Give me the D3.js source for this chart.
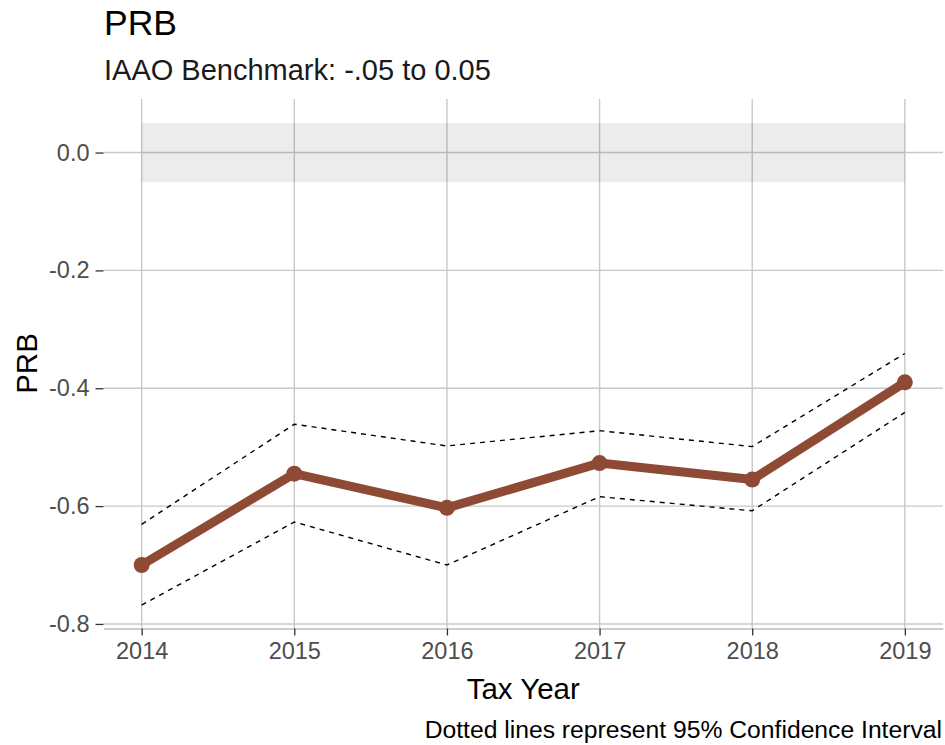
<!DOCTYPE html>
<html>
<head>
<meta charset="utf-8">
<script src="https://cdn.jsdelivr.net/npm/d3@7"></script>
<style>
  html, body { margin: 0; padding: 0; background: #fff; }
  svg { display: block; font-family: "Liberation Sans", Arial, sans-serif; }
</style>
</head>
<body>
<svg id="chart" width="945" height="745"></svg>
<script>
// ---- Data ----
const years = [2014, 2015, 2016, 2017, 2018, 2019];
const prb   = [-0.700, -0.545, -0.603, -0.527, -0.555, -0.390];
const upper = [-0.631, -0.461, -0.498, -0.472, -0.499, -0.341];
const lower = [-0.768, -0.627, -0.700, -0.584, -0.608, -0.441];
const yTicks = [0.0, -0.2, -0.4, -0.6, -0.8];
const benchmark = [-0.05, 0.05];

const titleText = "PRB";
const subtitleText = "IAAO Benchmark: -.05 to 0.05";
const xTitle = "Tax Year";
const yTitle = "PRB";
const captionText = "Dotted lines represent 95% Confidence Interval";

// ---- Layout ----
const svg = d3.select("#chart");
const panel = { left: 103.5, right: 943, top: 99, bottom: 628 };

const x = d3.scaleLinear().domain([2013.75, 2019.25]).range([panel.left, panel.right]);
const y = d3.scaleLinear().domain([0.0909, -0.8069]).range([panel.top, panel.bottom]);

// Grid lines
const grid = svg.append("g");
grid.selectAll("line.h").data(yTicks).join("line")
  .attr("x1", panel.left).attr("x2", panel.right)
  .attr("y1", d => y(d)).attr("y2", d => y(d))
  .attr("stroke", "#c8c8c8").attr("stroke-width", 1.4);
grid.selectAll("line.v").data(years).join("line")
  .attr("y1", panel.top).attr("y2", panel.bottom)
  .attr("x1", d => x(d)).attr("x2", d => x(d))
  .attr("stroke", "#c8c8c8").attr("stroke-width", 1.4);

// Benchmark band
svg.append("rect")
  .attr("x", x(years[0])).attr("width", x(years[years.length - 1]) - x(years[0]))
  .attr("y", y(benchmark[1])).attr("height", y(benchmark[0]) - y(benchmark[1]))
  .attr("fill", "#000").attr("fill-opacity", 0.075);

// Y axis (ticks + labels, no domain line)
const yAxis = svg.append("g")
  .attr("transform", `translate(${panel.left},0)`)
  .call(d3.axisLeft(y).tickValues(yTicks).tickFormat(d3.format(".1f")).tickSize(8).tickSizeOuter(0).tickPadding(6));
yAxis.select(".domain").remove();
yAxis.selectAll(".tick line").attr("stroke", "#333").attr("stroke-width", 1.3);
yAxis.selectAll(".tick text")
  .attr("fill", "#4d4d4d").attr("font-size", 23.5)
  .attr("font-family", "Liberation Sans, Arial, sans-serif")
  .text(d => d3.format(".1f")(d).replace("−", "-"));

// X axis
const xAxis = svg.append("g")
  .attr("transform", `translate(0,${panel.bottom + 0.5})`)
  .call(d3.axisBottom(x).tickValues(years).tickFormat(d3.format("d")).tickSize(7).tickSizeOuter(0).tickPadding(7));
xAxis.select(".domain").attr("stroke", "#bdbdbd").attr("stroke-width", 1.6);
xAxis.selectAll(".tick line").attr("stroke", "#333").attr("stroke-width", 1.3);
xAxis.selectAll(".tick text")
  .attr("fill", "#4d4d4d").attr("font-size", 23.5)
  .attr("font-family", "Liberation Sans, Arial, sans-serif");

// CI dashed lines
const lineGen = d3.line().x(d => x(d[0])).y(d => y(d[1]));
[upper, lower].forEach(series => {
  svg.append("path")
    .datum(years.map((yr, i) => [yr, series[i]]))
    .attr("d", lineGen)
    .attr("fill", "none")
    .attr("stroke", "#000")
    .attr("stroke-width", 1.4)
    .attr("stroke-dasharray", "5,5");
});

// Main line
const mainColor = "#8f4a36";
svg.append("path")
  .datum(years.map((yr, i) => [yr, prb[i]]))
  .attr("d", lineGen)
  .attr("fill", "none")
  .attr("stroke", mainColor)
  .attr("stroke-width", 9)
  .attr("stroke-linejoin", "round");
svg.append("g").selectAll("circle").data(years.map((yr, i) => [yr, prb[i]])).join("circle")
  .attr("cx", d => x(d[0])).attr("cy", d => y(d[1])).attr("r", 8)
  .attr("fill", mainColor);

// Titles
svg.append("text").attr("x", 104).attr("y", 35)
  .attr("font-size", 35.5).attr("fill", "#000").text(titleText);
svg.append("text").attr("x", 104).attr("y", 80)
  .attr("font-size", 29).attr("fill", "#1a1a1a").text(subtitleText);

// Axis titles
svg.append("text")
  .attr("x", (panel.left + panel.right) / 2).attr("y", 699)
  .attr("text-anchor", "middle").attr("font-size", 29.5).attr("fill", "#000").text(xTitle);
svg.append("text")
  .attr("transform", `translate(37,${(panel.top + panel.bottom) / 2}) rotate(-90)`)
  .attr("text-anchor", "middle").attr("font-size", 29.5).attr("fill", "#000").text(yTitle);

// Caption
svg.append("text")
  .attr("x", 942).attr("y", 738)
  .attr("text-anchor", "end").attr("font-size", 24.7).attr("fill", "#000").text(captionText);
</script>
</body>
</html>
